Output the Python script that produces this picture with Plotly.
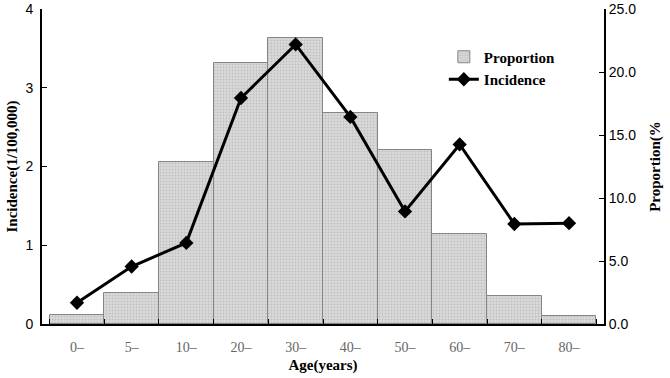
import plotly.graph_objects as go

age_groups = ["0–", "5–", "10–", "20–", "30–", "40–", "50–", "60–", "70–", "80–"]
proportion = [0.75, 2.45, 12.85, 20.75, 22.7, 16.75, 13.8, 7.15, 2.2, 0.65]
incidence = [0.27, 0.73, 1.03, 2.87, 3.55, 2.63, 1.43, 2.28, 1.27, 1.28]

serif = "Liberation Serif"
sans = "Liberation Sans"

fig = go.Figure()
fig.add_trace(go.Bar(
    x=age_groups, y=proportion, name="Proportion", yaxis="y",
    marker=dict(color="#d4d4d4", line=dict(color="#858585", width=1),
                pattern=dict(shape=".", fgcolor="#a8a8a8", bgcolor="#dadada", size=3, solidity=0.4)),
))
fig.add_trace(go.Scatter(
    x=age_groups, y=incidence, name="Incidence", yaxis="y2", mode="lines+markers",
    line=dict(color="black", width=3),
    marker=dict(symbol="diamond", size=11, color="black"),
))

fig.update_layout(
    width=670, height=378,
    margin=dict(l=42, r=66, t=9, b=54),
    plot_bgcolor="white", paper_bgcolor="white",
    bargap=0,
    showlegend=True,
    legend=dict(x=0.715, y=0.9, xanchor="left", yanchor="top",
                font=dict(family=serif, size=15, color="black", weight="bold"),
                bgcolor="rgba(0,0,0,0)", tracegroupgap=2),
    xaxis=dict(
        automargin=False,
        tickson="boundaries", ticks="inside", ticklen=5, tickwidth=1, tickcolor="black",
        ticklabelstandoff=9,
        showline=True, linecolor="black", linewidth=2, showgrid=False,
        tickfont=dict(family=serif, size=14, color="#666666"),
        title=dict(text="Age(years)", font=dict(family=serif, size=15, color="black", weight="bold"), standoff=6),
    ),
    yaxis=dict(
        automargin=False,
        side="right", range=[0, 25], tickvals=[0, 5, 10, 15, 20, 25],
        ticktext=["0.0", "5.0", "10.0", "15.0", "20.0", "25.0"],
        ticks="inside", ticklen=5, tickcolor="black",
        showline=True, linecolor="black", linewidth=2, showgrid=False, zeroline=False,
        tickfont=dict(family=sans, size=14, color="black"),
        title=dict(text="Proportion(%", font=dict(family=serif, size=15, color="black", weight="bold"), standoff=14),
    ),
    yaxis2=dict(
        automargin=False,
        side="left", overlaying="y", range=[0, 4], tickvals=[0, 1, 2, 3, 4],
        ticks="inside", ticklen=5, tickcolor="black",
        ticklabelstandoff=4,
        showline=True, linecolor="black", linewidth=2, showgrid=False, zeroline=False,
        tickfont=dict(family=sans, size=14, color="black"),
        title=dict(text="Incidence(1/100,000)", font=dict(family=serif, size=15, color="black", weight="bold"), standoff=4),
    ),
)

fig.write_html("out.html", post_script="document.body.style.margin='0';",
               config={"displayModeBar": False})
